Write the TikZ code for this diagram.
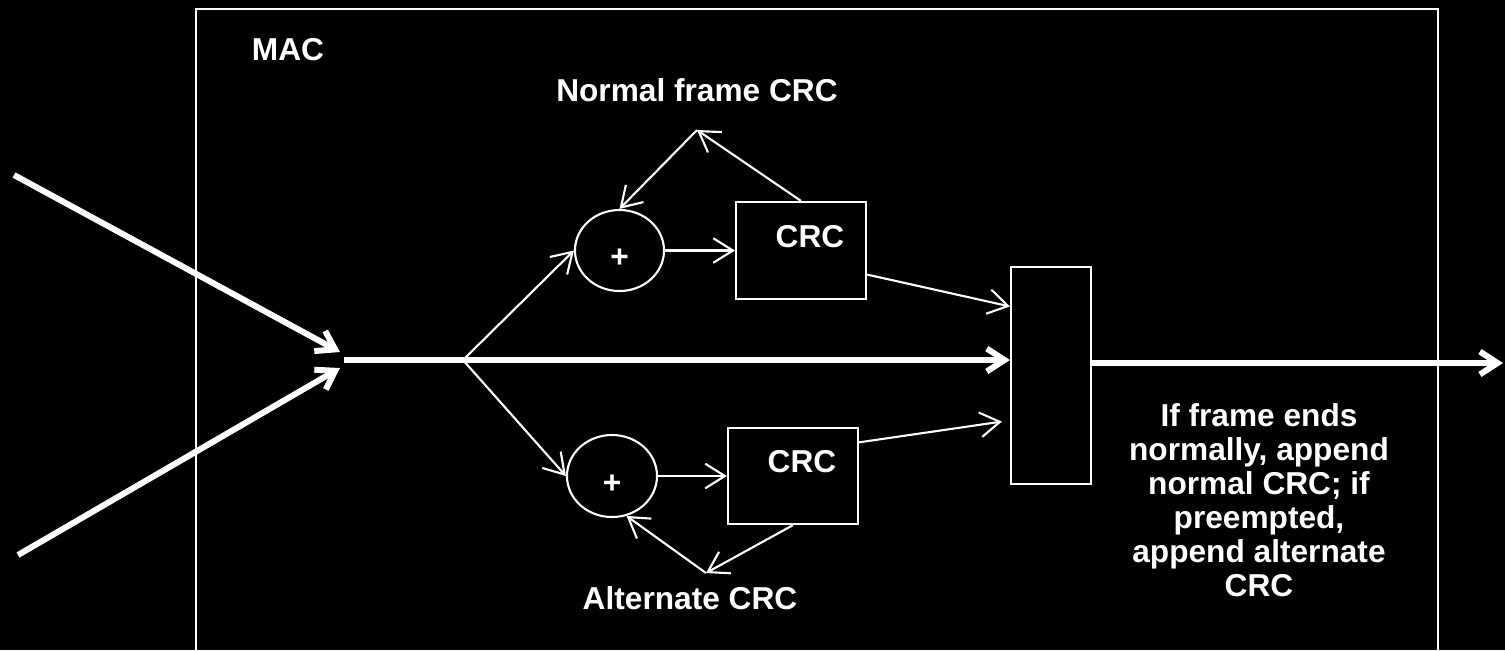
\documentclass[tikz,border=0pt]{standalone}
\usepackage{fontspec}
\setmainfont{Liberation Sans}
\usetikzlibrary{arrows.meta,shapes.geometric,calc}

\begin{document}
\begin{tikzpicture}[x=0.01cm,y=-0.01cm,
    wire/.style={white,line width=0.6pt},
    bus/.style={white,line width=1.7pt},
    wire arrow/.style={wire,-{Straight Barb[length=5.6pt,width=7pt]}},
    bus arrow/.style={bus,-{Straight Barb[length=5pt,width=6.5pt]}},
    txt/.style={text=white,font=\bfseries\fontsize{9}{9.7}\selectfont,inner sep=0pt},
    adder/.style={ellipse,draw,wire,txt,inner sep=0pt,text height=0.34cm,text depth=0pt},
    block/.style={rectangle,draw,wire,inner sep=0pt}]
    \fill[black] (0,0) rectangle (1505,650);
    \useasboundingbox (0,0) rectangle (1505,650);

    \draw[wire] (196,660) |- (1438,9) -- (1438,660);
    \node[txt] (mac) at (288,50) {MAC};

    \node[adder,minimum width=0.89cm,minimum height=0.81cm] (up) at (619.5,250.5) {+};
    \node[adder,minimum width=0.9cm,minimum height=0.82cm] (lo) at (612,476) {+};
    \node[block,minimum width=1.3cm,minimum height=0.97cm,
        label={[txt,xshift=0.09cm,yshift=0.14cm]center:CRC}] (crcup) at (801,250.5) {};
    \node[block,minimum width=1.3cm,minimum height=0.96cm,
        label={[txt,xshift=0.09cm,yshift=0.14cm]center:CRC}] (crclo) at (793,476) {};
    \node[block,minimum width=0.8cm,minimum height=2.17cm] (mux) at (1051,375.5) {};

    \node[txt] (nlabel) at (697,90) {Normal frame CRC};
    \node[txt] (alabel) at (690,598) {Alternate CRC};
    \node[txt,align=center] (note) at (1259,500) {If frame ends\\normally, append\\normal CRC; if\\preempted,\\append alternate\\CRC};

    \coordinate (in1) at (14,175);
    \coordinate (in2) at (18,555);
    \coordinate (jn) at (344,360);
    \coordinate (br) at (463,360);
    \coordinate (nfb) at (697,130);
    \coordinate (afb) at (706,573);
    \coordinate (out) at (1503,363);

    \draw[bus arrow] (in1) -- ($(jn)+(-4,-8)$);
    \draw[bus arrow] (in2) -- ($(jn)+(-4,8)$);
    \draw[bus arrow] (jn) -- (jn -| mux.west);
    \draw[bus arrow] (out -| mux.east) -- (out);

    \draw[wire arrow] (br) -- (up.west);
    \draw[wire arrow] (br) -- (lo.west);
    \draw[wire arrow] (up) -- (crcup);
    \draw[wire arrow] (lo) -- (crclo);
    \draw[wire arrow] (crcup.north) -- (nfb);
    \draw[wire arrow] (nfb) -- (up.north);
    \draw[wire arrow] (crclo.south) -- (afb);
    \draw[wire arrow] (afb) -- (lo.-70);
    \draw[wire arrow] (crcup.-20) -- ($(mux.north west)!0.185!(mux.south west)$);
    \draw[wire arrow] (crclo.27) -- ($(mux.north west)!0.71!(mux.south west)+(-8,0)$);
\end{tikzpicture}
\end{document}
